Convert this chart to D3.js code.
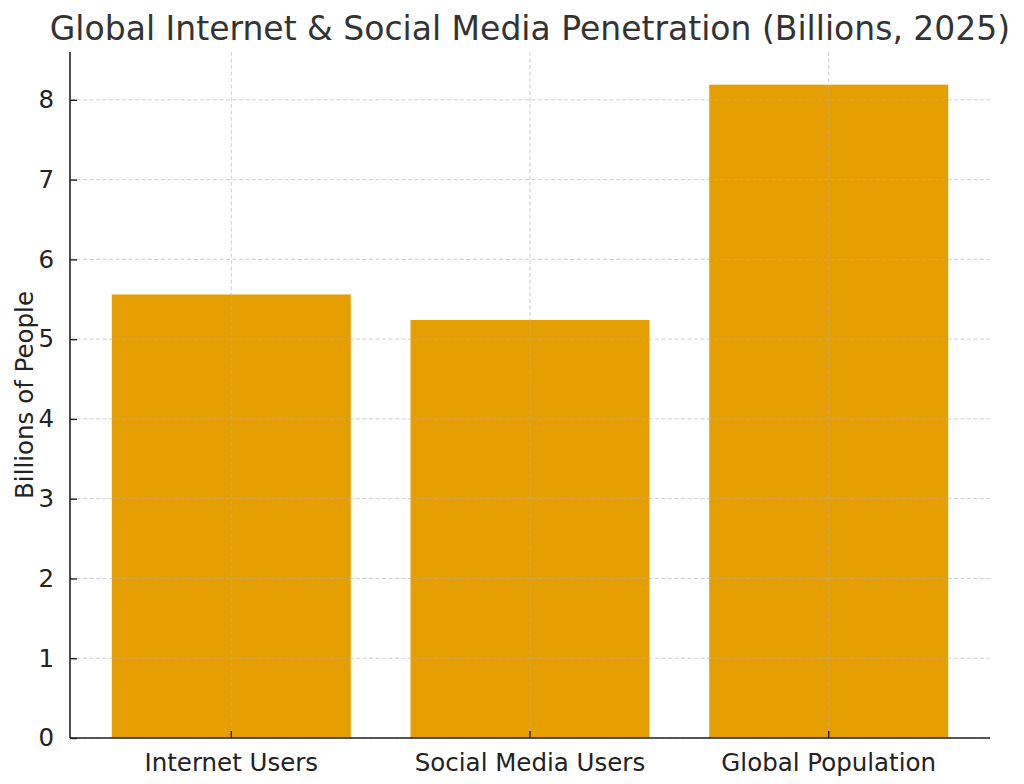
<!DOCTYPE html>
<html>
<head>
<meta charset="utf-8">
<script src="https://cdn.jsdelivr.net/npm/d3@7"></script>
<style>
  body { margin: 0; background: #fff; }
  svg { display: block; font-family: "DejaVu Sans", sans-serif; }
</style>
</head>
<body>
<svg id="chart" width="1024" height="784"></svg>
<script>
const categories = ["Internet Users", "Social Media Users", "Global Population"];
const values = [5.56, 5.24, 8.19];
const yTicks = [0, 1, 2, 3, 4, 5, 6, 7, 8];

const svg = d3.select("#chart");
const margin = { top: 52, right: 34, bottom: 46, left: 70 };
const width = 1024 - margin.left - margin.right;
const height = 784 - margin.top - margin.bottom;

const g = svg.append("g")
  .attr("transform", `translate(${margin.left},${margin.top})`);

const xScale = d3.scaleBand()
  .domain(categories)
  .range([0, width])
  .paddingInner(0.2)
  .paddingOuter(0.14);

const yScale = d3.scaleLinear()
  .domain([0, d3.max(values) * 1.05])
  .range([height, 0]);

// bars
g.selectAll(".bar")
  .data(categories)
  .enter().append("rect")
  .attr("class", "bar")
  .attr("x", d => xScale(d))
  .attr("width", xScale.bandwidth())
  .attr("y", (d, i) => yScale(values[i]))
  .attr("height", (d, i) => height - yScale(values[i]))
  .attr("fill", "#E69F00");

// grid sits above the bars
g.append("g")
  .attr("class", "grid-y")
  .selectAll("line")
  .data(yTicks)
  .enter().append("line")
  .attr("x1", 0)
  .attr("x2", width)
  .attr("y1", d => yScale(d))
  .attr("y2", d => yScale(d))
  .attr("stroke", "#b0b0b0")
  .attr("stroke-opacity", 0.6)
  .attr("stroke-width", 1)
  .attr("stroke-dasharray", "4,2.5");

g.append("g")
  .attr("class", "grid-x")
  .selectAll("line")
  .data(categories)
  .enter().append("line")
  .attr("x1", d => xScale(d) + xScale.bandwidth() / 2)
  .attr("x2", d => xScale(d) + xScale.bandwidth() / 2)
  .attr("y1", 0)
  .attr("y2", height)
  .attr("stroke", "#b0b0b0")
  .attr("stroke-opacity", 0.6)
  .attr("stroke-width", 1)
  .attr("stroke-dasharray", "4,2.5");

// axes, ticks pointing inward
const xAxis = g.append("g")
  .attr("class", "x-axis")
  .attr("transform", `translate(0,${height})`)
  .call(d3.axisBottom(xScale).tickSize(-7).tickPadding(16));

const yAxis = g.append("g")
  .attr("class", "y-axis")
  .call(d3.axisLeft(yScale).tickValues(yTicks).tickSize(-7).tickPadding(16));

xAxis.select(".domain").attr("d", `M0,0H${width}`);
yAxis.select(".domain").attr("d", `M0,0V${height}`);

g.selectAll(".x-axis .domain, .y-axis .domain")
  .style("stroke", "#222")
  .style("stroke-width", 1.6);

g.selectAll(".x-axis .tick line, .y-axis .tick line")
  .style("stroke", "#222")
  .style("stroke-width", 1.4);

g.selectAll(".x-axis text, .y-axis text")
  .style("fill", "#222")
  .style("font-family", "DejaVu Sans")
  .style("font-size", "24.5px");

// axis label
svg.append("text")
  .attr("transform", `translate(33,${margin.top + height / 2}) rotate(-90)`)
  .attr("text-anchor", "middle")
  .style("fill", "#222")
  .style("font-size", "24.5px")
  .text("Billions of People");

// title
svg.append("text")
  .attr("x", margin.left + width / 2)
  .attr("y", 40)
  .attr("text-anchor", "middle")
  .style("fill", "#333")
  .style("font-size", "33px")
  .text("Global Internet & Social Media Penetration (Billions, 2025)");
</script>
</body>
</html>
